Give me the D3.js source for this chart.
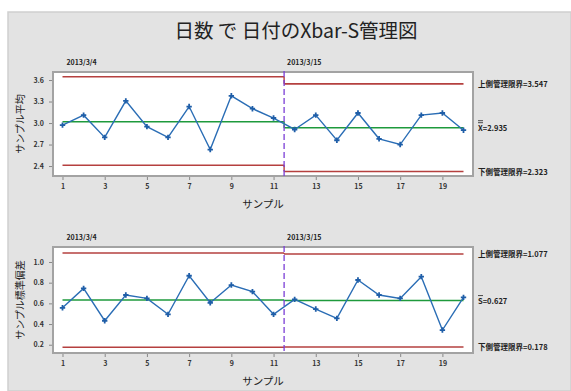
<!DOCTYPE html>
<html>
<head>
<meta charset="utf-8">
<script src="https://cdn.jsdelivr.net/npm/d3@7"></script>
<style>
  body { margin: 0; background: #fff; }
  text { font-family: "Noto Sans CJK JP", "Noto Sans", sans-serif; }
</style>
</head>
<body>
<div id="chart"></div>
<script>
// chart values
const samples = [1,2,3,4,5,6,7,8,9,10,11,12,13,14,15,16,17,18,19,20];
const xbarVals = [2.97,3.11,2.80,3.31,2.95,2.80,3.23,2.63,3.38,3.20,3.07,2.91,3.11,2.76,3.14,2.78,2.70,3.11,3.14,2.90];
const sdVals = [0.557,0.745,0.432,0.681,0.648,0.494,0.867,0.606,0.777,0.713,0.494,0.639,0.545,0.455,0.826,0.681,0.648,0.858,0.342,0.658];
const stageNames = ["2013/3/4", "2013/3/15"];
const stageRanges = [[1, 11.5], [11.5, 20]];
const xbarLimits = [{ucl: 3.646, cl: 3.018, lcl: 2.41}, {ucl: 3.547, cl: 2.935, lcl: 2.323}];
const sdLimits = [{ucl: 1.087, cl: 0.632, lcl: 0.175}, {ucl: 1.077, cl: 0.627, lcl: 0.178}];
const xTicks = [1,3,5,7,9,11,13,15,17,19];
const xbarTicks = [2.4,2.7,3.0,3.3,3.6];
const sdTicks = [0.2,0.4,0.6,0.8,1.0];

const width = 571, height = 391;
const svg = d3.select("#chart").append("svg")
  .attr("width", width).attr("height", height);

// gray panel
svg.append("rect").attr("x", 8).attr("y", 12).attr("width", width - 8).attr("height", height - 12)
  .attr("fill", "#e3e3e3").attr("stroke", "#cfcfcf").attr("stroke-width", 1.5);

svg.append("text").attr("x", 296).attr("y", 38).attr("text-anchor", "middle")
  .attr("font-size", 19.5).attr("fill", "#222")
  .text("日数 で 日付のXbar-S管理図");

const xScale = d3.scaleLinear().domain([0.55, 20.45]).range([53, 473]);

function panel(top, bottom, yDomain, ticks, vals, limits, ylab, fmt, centerLabel) {
  const yScale = d3.scaleLinear().domain(yDomain).range([bottom, top]);
  const g = svg.append("g");

  g.append("rect").attr("x", 53).attr("y", top).attr("width", 420).attr("height", bottom - top)
    .attr("fill", "#fff").attr("stroke", "#a3a3a3").attr("stroke-width", 2);

  // axes
  const yAxis = d3.axisLeft(yScale).tickValues(ticks).tickFormat(d3.format(".1f")).tickSize(3).tickSizeOuter(0);
  const ya = g.append("g").attr("transform", "translate(52,0)").call(yAxis);
  ya.select(".domain").remove();
  ya.selectAll("line").attr("stroke", "#888");
  ya.selectAll("text").attr("font-size", 7).attr("font-weight", "bold").attr("fill", "#333").attr("x", -8);

  const xAxis = d3.axisBottom(xScale).tickValues(xTicks).tickSize(3).tickSizeOuter(0);
  const xa = g.append("g").attr("transform", "translate(0," + (bottom + 1) + ")").call(xAxis);
  xa.select(".domain").remove();
  xa.selectAll("line").attr("stroke", "#888");
  xa.selectAll("text").attr("font-size", 7).attr("font-weight", "bold").attr("fill", "#333").attr("y", 7);

  // stage limit lines
  limits.forEach((lim, i) => {
    const r = stageRanges[i];
    [["ucl", "#b5403f"], ["lcl", "#b5403f"], ["cl", "#1e9a3c"]].forEach(([k, c]) => {
      g.append("line")
        .attr("x1", xScale(r[0])).attr("x2", xScale(r[1]))
        .attr("y1", yScale(lim[k])).attr("y2", yScale(lim[k]))
        .attr("stroke", c).attr("stroke-width", 1.6);
    });
    // connectors at stage change
    if (i > 0) {
      ["ucl", "lcl", "cl"].forEach(k => {
        g.append("line")
          .attr("x1", xScale(r[0])).attr("x2", xScale(r[0]))
          .attr("y1", yScale(limits[i - 1][k])).attr("y2", yScale(lim[k]))
          .attr("stroke", k == "cl" ? "#1e9a3c" : "#b5403f").attr("stroke-width", 1.4);
      });
    }
    g.append("text").attr("x", xScale(r[0]) + (i == 0 ? 4 : 3)).attr("y", top - 7)
      .attr("font-size", 7).attr("font-weight", "bold").attr("fill", "#222")
      .text(stageNames[i]);
  });

  // stage divider
  g.append("line")
    .attr("x1", xScale(11.5)).attr("x2", xScale(11.5))
    .attr("y1", top - 1).attr("y2", bottom)
    .attr("stroke", "#7b3fd6").attr("stroke-width", 1.3).attr("stroke-dasharray", "6,3");

  // data
  const line = d3.line().x((d, i) => xScale(samples[i])).y(d => yScale(d));
  g.append("path").datum(vals).attr("d", line)
    .attr("fill", "none").attr("stroke", "#2a6db5").attr("stroke-width", 1.4);
  g.selectAll(".pt").data(vals).enter().append("path")
    .attr("class", "pt")
    .attr("transform", (d, i) => "translate(" + xScale(samples[i]) + "," + yScale(d) + ")")
    .attr("d", d3.symbol(d3.symbolCross, 16))
    .attr("fill", "#1f5ea8");

  // right-hand labels (last stage)
  const last = limits[limits.length - 1];
  const rl = g.append("g").attr("font-size", 7.5).attr("font-weight", "bold").attr("fill", "#222");
  rl.append("text").attr("x", 478).attr("y", yScale(last.ucl) + 3).text("上側管理限界=" + fmt(last.ucl));
  rl.append("text").attr("x", 478).attr("y", yScale(last.lcl) + 3).text("下側管理限界=" + fmt(last.lcl));
  rl.append("text").attr("x", 478).attr("y", yScale(last.cl) + 3).text(centerLabel + "=" + fmt(last.cl));
  // bars over the center symbol
  const nb = centerLabel == "X" ? 2 : 1;
  for (let j = 0; j < nb; j++) {
    rl.append("line").attr("x1", 478).attr("x2", 483)
      .attr("y1", yScale(last.cl) - 5 - j * 2).attr("y2", yScale(last.cl) - 5 - j * 2)
      .attr("stroke", "#222").attr("stroke-width", 0.8);
  }

  // axis labels
  g.append("text")
    .attr("transform", "translate(24," + ((top + bottom) / 2) + ") rotate(-90)")
    .attr("text-anchor", "middle").attr("font-size", 10).attr("fill", "#222")
    .text(ylab);
  g.append("text").attr("x", 263).attr("y", bottom + 32).attr("text-anchor", "middle")
    .attr("font-size", 10.5).attr("fill", "#222").text("サンプル");
}

panel(72, 176, [2.261, 3.712], xbarTicks, xbarVals, xbarLimits, "サンプル平均", d3.format(".3f"), "X");
panel(247, 353, [0.12, 1.145], sdTicks, sdVals, sdLimits, "サンプル標準偏差", d3.format(".3f"), "S");
</script>
</body>
</html>
